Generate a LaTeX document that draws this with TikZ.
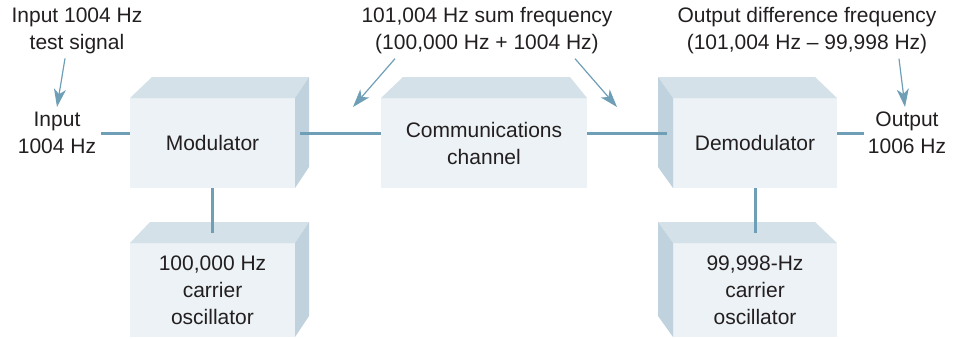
\documentclass[tikz,border=0pt]{standalone}
\usepackage{fontspec}
\setmainfont{Liberation Sans}
\usepackage{xcolor}
\usetikzlibrary{arrows.meta,calc}
\definecolor{frontface}{HTML}{ECF2F5}
\definecolor{topface}{HTML}{D4E1E8}
\definecolor{sideface}{HTML}{BFD2DD}
\definecolor{wirec}{HTML}{6E9FB7}
\definecolor{ink}{HTML}{231F20}
\begin{document}
\begin{tikzpicture}[x=0.5pt,y=-0.5pt,
  font=\fontsize{10.5}{13.5}\selectfont,
  box/.style={fill=frontface,minimum height=45pt,inner sep=0pt,outer sep=0pt,align=center,text=ink},
  lbl/.style={align=center,inner sep=2pt,text=ink},
  wire/.style={draw=wirec,line width=1.5pt},
  callout/.style={draw=wirec,line width=0.6pt,-{Stealth[length=9pt,width=6pt,inset=2.5pt]}}]
\useasboundingbox (0,0) rectangle (953,338);
% blocks (front faces)
\node[box,minimum width=82.5pt] (mod) at (212.5,143) {Modulator};
\node[box,minimum width=103pt] (chan) at (484,143) {Communications\\channel};
\node[box,minimum width=82pt] (demod) at (755,143) {Demodulator};
\node[box,minimum width=82.5pt,minimum height=47pt] (osc1) at (212.5,290) {100,000 Hz\\carrier\\oscillator};
\node[box,minimum width=82pt,minimum height=47pt] (osc2) at (755,290) {99,998-Hz\\carrier\\oscillator};
% top and side faces
\foreach \b/\l/\r in {mod/22/14,osc1/20/14,chan/22/-17,demod/-15/-22,osc2/-15/-22}
  \fill[topface] (\b.north west) -- ++(\l,-21) -- ($(\b.north east)+(\r,-21)$) -- (\b.north east) -- cycle;
\foreach \b in {mod,osc1}
  \fill[sideface] (\b.north east) -- ++(14,-21) -- ($(\b.south east)+(14,-21)$) -- (\b.south east) -- cycle;
\foreach \b in {demod,osc2}
  \fill[sideface] (\b.north west) -- ++(-15,-21) -- ($(\b.south west)+(-15,-21)$) -- (\b.south west) -- cycle;
% labels
\node[lbl] (sig) at (77,31) {Input 1004 Hz\\test signal};
\node[lbl] (in) at (57,133) {Input\\1004 Hz};
\node[lbl] (sum) at (487,31) {101,004 Hz sum frequency\\(100,000 Hz + 1004 Hz)};
\node[lbl] (diff) at (807,31) {Output difference frequency\\(101,004 Hz -- 99,998 Hz)};
\node[lbl] (out) at (907,133) {Output\\1006 Hz};
\coordinate (inTip) at (57,107);
\coordinate (sumTipL) at (353,107);
\coordinate (sumTipR) at (617,107);
\coordinate (outTip) at (905,107);
% signal path
\draw[wire] (in.east) -- (in.east -| mod.west);
\draw[wire] ([xshift=2.5pt]in.east -| mod.east) -- (in.east -| chan.west);
\draw[wire] (in.east -| chan.east) -- ([xshift=-3pt]in.east -| demod.west);
\draw[wire] (in.east -| demod.east) -- (out.west);
\draw[wire] (mod.south) -- ([yshift=5pt]osc1.north);
\draw[wire] (demod.south) -- ([yshift=5pt]osc2.north);
% callouts
\draw[callout] ([xshift=-6pt]sig.south) -- (inTip);
\draw[callout] ([xshift=-46pt]sum.south) -- (sumTipL);
\draw[callout] ([xshift=44pt]sum.south) -- (sumTipR);
\draw[callout] ([xshift=46pt]diff.south) -- (outTip);
\end{tikzpicture}
\end{document}
